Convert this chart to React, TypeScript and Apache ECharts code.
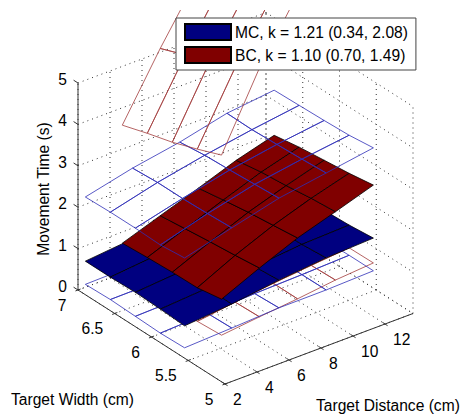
import React, { useEffect, useRef } from "react";
import * as echarts from "echarts";

// ---- data ----
const widths = [6.9, 6.56, 6.22, 5.88, 5.55];
const distancesMC = [2, 4.95, 7.9, 10.85, 13.8];
const distancesBC = [4.31, 6.68, 9.06, 11.43, 13.8];

// rows follow widths, columns follow distances
const mcMean = [
  [0.81, 0.92, 1.0, 1.03, 1.05],
  [0.81, 0.92, 1.0, 1.05, 1.07],
  [0.83, 0.92, 0.99, 1.07, 1.1],
  [0.81, 0.89, 0.98, 1.09, 1.13],
  [0.78, 0.88, 1.03, 1.14, 1.19],
];
const mcUpper = [
  [2.36, 2.63, 2.83, 3.1, 3.23],
  [2.38, 2.67, 2.9, 3.09, 3.25],
  [2.38, 2.67, 2.93, 3.12, 3.27],
  [2.36, 2.69, 2.97, 3.15, 3.3],
  [2.42, 2.72, 3.01, 3.19, 3.37],
];
const mcLower = [
  [0.25, 0.27, 0.3, 0.33, 0.36],
  [0.27, 0.28, 0.31, 0.34, 0.37],
  [0.25, 0.28, 0.32, 0.35, 0.38],
  [0.23, 0.28, 0.33, 0.36, 0.4],
  [0.25, 0.3, 0.36, 0.365, 0.4],
];
const bcMean = [
  [0.91, 1.23, 1.55, 1.88, 2.14],
  [0.95, 1.3, 1.65, 1.98, 2.24],
  [0.98, 1.37, 1.74, 2.04, 2.31],
  [0.99, 1.43, 1.81, 2.12, 2.38],
  [1.09, 1.5, 1.88, 2.17, 2.47],
];
const bcUpper = [
  [3.76, 5.27, 6.67, 8.0, 9.3],
  [3.95, 5.5, 6.93, 8.3, 9.6],
  [4.12, 5.75, 7.17, 8.6, 9.9],
  [4.34, 5.97, 7.41, 8.9, 10.2],
  [4.57, 6.33, 7.77, 9.2, 10.5],
];
const bcLower = [
  [0.1, 0.2, 0.32, 0.41, 0.5],
  [0.12, 0.24, 0.35, 0.44, 0.52],
  [0.15, 0.27, 0.38, 0.47, 0.55],
  [0.18, 0.3, 0.41, 0.5, 0.58],
  [0.22, 0.32, 0.41, 0.52, 0.59],
];

const distanceTicks = [2, 4, 6, 8, 10, 12];
const widthTicks = [7, 6.5, 6, 5.5, 5];
const timeTicks = [0, 1, 2, 3, 4, 5];
const distanceLimits = [2, 13.75];
const widthLimits = [7, 5];
const timeLimits = [0, 5];
const mcName = "MC, k = 1.21 (0.34, 2.08)";
const bcName = "BC, k = 1.10 (0.70, 1.49)";
const xTitle = "Target Distance (cm)";
const yTitle = "Target Width (cm)";
const zTitle = "Movement Time (s)";

// ---- oblique projection of the 3D box ----
const FONT = "Liberation Sans";
const SIZE = 15.6;
const project = (d: number, w: number, z: number): number[] => [
  78 + 16 * (d - 2) + 73.5 * (7 - w),
  290 - 6 * (d - 2) + 47 * (7 - w) - 41.4 * z,
];

const cells = (ds: number[], zs: number[][]) => {
  const out: number[][] = [];
  for (let i = 0; i < widths.length - 1; i++) {
    for (let j = 0; j < ds.length - 1; j++) {
      out.push([ds[j], ds[j + 1], widths[i], widths[i + 1], zs[i][j], zs[i][j + 1], zs[i + 1][j + 1], zs[i + 1][j]]);
    }
  }
  return out;
};

const surface = (name: string | undefined, ds: number[], zs: number[][], fill: string | null, stroke: string, lineWidth: number) => ({
  type: "custom",
  name,
  coordinateSystem: "none",
  silent: true,
  itemStyle: { color: fill || stroke, borderColor: "#000", borderWidth: 1 },
  data: cells(ds, zs),
  renderItem: (_p: any, api: any) => {
    const [d0, d1, w0, w1, z00, z01, z11, z10] = [0, 1, 2, 3, 4, 5, 6, 7].map((k) => api.value(k));
    const points = [project(d0, w0, z00), project(d1, w0, z01), project(d1, w1, z11), project(d0, w1, z10)];
    return {
      type: "polygon",
      shape: { points },
      clipPath: { type: "rect", shape: { x: 0, y: 10, width: 462, height: 410 } },
      style: { fill: fill || "none", stroke, lineWidth },
    };
  },
});

const [dMin, dMax] = distanceLimits;
const [wBack, wFront] = widthLimits;
const [zMin, zMax] = timeLimits;
const dVals = [...distanceTicks, dMax];
const wVals = [...widthTicks];

// segments given in data values on the box: start and end as d, w, z
const gridSegments: number[][] = [];
dVals.forEach((d) => {
  gridSegments.push([d, wBack, zMin, d, wFront, zMin]);
  gridSegments.push([d, wBack, zMin, d, wBack, zMax]);
});
wVals.forEach((w) => {
  gridSegments.push([dMin, w, zMin, dMax, w, zMin]);
  gridSegments.push([dMax, w, zMin, dMax, w, zMax]);
});
timeTicks.forEach((z) => {
  gridSegments.push([dMin, wBack, z, dMax, wBack, z]);
  gridSegments.push([dMax, wBack, z, dMax, wFront, z]);
});

const segmentSeries = (data: number[][], stroke: string, lineWidth: number, lineDash?: number[]) => ({
  type: "custom",
  coordinateSystem: "none",
  silent: true,
  data,
  renderItem: (_p: any, api: any) => {
    const a = project(api.value(0), api.value(1), api.value(2));
    const b = project(api.value(3), api.value(4), api.value(5));
    return {
      type: "line",
      shape: { x1: a[0], y1: a[1], x2: b[0], y2: b[1] },
      style: { stroke, lineWidth, lineDash, fill: "none" },
    };
  },
});

const axisLines = [
  [dMin, wBack, zMin, dMin, wBack, zMax],
  [dMin, wBack, zMin, dMin, wFront, zMin],
  [dMin, wFront, zMin, dMax, wFront, zMin],
];

const tickMarks = (): number[][] => {
  const out: number[][] = [];
  timeTicks.forEach((z) => out.push([dMin, wBack + 0.06, z, dMin, wBack, z]));
  widthTicks.forEach((w) => out.push([dMin - 0.16, w, zMin, dMin + 0.16, w, zMin]));
  distanceTicks.forEach((d) => out.push([d, wFront + 0.035, zMin, d, wFront - 0.035, zMin]));
  return out;
};

const labelSeries = (values: number[], at: (v: number) => number[], dx: number, dy: number, align: string) => ({
  type: "custom",
  coordinateSystem: "none",
  silent: true,
  data: values.map((v) => [v]),
  renderItem: (_p: any, api: any) => {
    const v = api.value(0);
    const p = at(v);
    return {
      type: "text",
      style: {
        text: String(v),
        x: p[0] + dx,
        y: p[1] + dy,
        fill: "#000",
        font: `${SIZE}px "${FONT}"`,
        align,
        verticalAlign: "middle",
      },
    };
  },
});

const BLUE = "#000080";
const RED = "#800000";
const BLUE_WIRE = "#2f2fb8";
const RED_WIRE = "#a23c3c";

const option: any = {
  animation: false,
  backgroundColor: "#fff",
  legend: {
    show: true,
    left: 176,
    top: 18,
    orient: "vertical",
    selectedMode: false,
    icon: "rect",
    itemWidth: 46,
    itemHeight: 16,
    itemGap: 5,
    padding: [5, 8, 6, 8],
    backgroundColor: "#fff",
    borderColor: "#444",
    borderWidth: 1,
    borderRadius: 0,
    data: [mcName, bcName],
    textStyle: { fontFamily: FONT, fontSize: SIZE, color: "#000", padding: [0, 0, 0, -1] },
    z: 20,
  },
  graphic: [
    { type: "text", left: 11, top: 391, style: { text: yTitle, font: `${SIZE}px "${FONT}"`, fill: "#000" } },
    { type: "text", left: 316, top: 397, style: { text: xTitle, font: `${SIZE}px "${FONT}"`, fill: "#000" } },
    {
      type: "text",
      x: 43,
      y: 189,
      rotation: Math.PI / 2,
      style: { text: zTitle, font: `${SIZE}px "${FONT}"`, fill: "#000", align: "center", verticalAlign: "middle" },
    },
  ],
  series: [
    segmentSeries(gridSegments, "#333", 1, [1, 4]),
    surface(undefined, distancesBC, bcLower, null, RED_WIRE, 0.8),
    surface(undefined, distancesMC, mcLower, null, BLUE_WIRE, 0.8),
    surface(mcName, distancesMC, mcMean, BLUE, "#000", 0.8),
    surface(bcName, distancesBC, bcMean, RED, "#000", 0.8),
    surface(undefined, distancesMC, mcUpper, null, BLUE_WIRE, 0.8),
    surface(undefined, distancesBC, bcUpper, null, RED_WIRE, 0.8),
    segmentSeries(axisLines, "#333", 1),
    segmentSeries(tickMarks(), "#333", 1),
    labelSeries(timeTicks, (z) => project(dMin, wBack, z), -11, -3.5, "right"),
    labelSeries(widthTicks, (w) => project(dMin, w, zMin), -11.5, 15, "right"),
    labelSeries(distanceTicks, (d) => project(d, wFront, zMin), 8, 15.5, "left"),
  ],
};

export default function App() {
  const ref = useRef<HTMLDivElement>(null);
  useEffect(() => {
    const chart = echarts.init(ref.current!, null, { renderer: "svg" });
    chart.setOption(option);
    return () => chart.dispose();
  }, []);
  return <div ref={ref} style={{ position: "absolute", left: 0, top: 0, width: 462, height: 420 }} />;
}
